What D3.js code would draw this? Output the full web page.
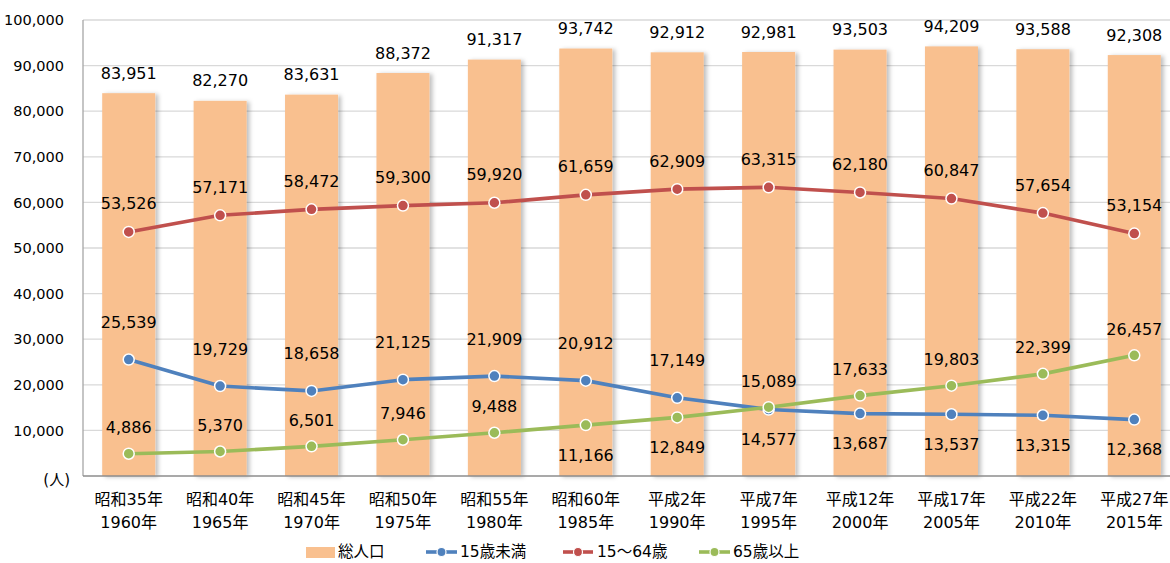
<!DOCTYPE html>
<html><head><meta charset="utf-8">
<script src="https://cdn.jsdelivr.net/npm/d3@7"></script>
<style>
html,body{margin:0;padding:0;background:#fff;}
svg{display:block;}
text{font-family:"DejaVu Sans","Noto Sans CJK JP",sans-serif;fill:#000;}
</style></head>
<body>
<svg id="chart" width="1170" height="563"></svg>
<script>
const catEra = ["昭和35年","昭和40年","昭和45年","昭和50年","昭和55年","昭和60年","平成2年","平成7年","平成12年","平成17年","平成22年","平成27年"];
const catYear = ["1960年","1965年","1970年","1975年","1980年","1985年","1990年","1995年","2000年","2005年","2010年","2015年"];
const total = [83951,82270,83631,88372,91317,93742,92912,92981,93503,94209,93588,92308];
const under15 = [25539,19729,18658,21125,21909,20912,17149,14577,13687,13537,13315,12368];
const age15to64 = [53526,57171,58472,59300,59920,61659,62909,63315,62180,60847,57654,53154];
const over65 = [4886,5370,6501,7946,9488,11166,12849,15089,17633,19803,22399,26457];
const under15LabelPos = ["above","above","above","above","above","above","above","below","below","below","below","below"];
const over65LabelPos = ["above","above","above","above","above","below","below","above","above","above","above","above"];
const yTicks = [10000,20000,30000,40000,50000,60000,70000,80000,90000,100000];
const legendNames = ["総人口","15歳未満","15～64歳","65歳以上"];

(function(){
const svg = d3.select("#chart");
const pLeft = 83, pRight = 1180, pTop = 20, pBottom = 476;

const x = d3.scaleBand().domain(d3.range(catEra.length)).range([pLeft, pRight]).paddingInner(0.42).paddingOuter(0.21);
const y = d3.scaleLinear().domain([0, 100000]).range([pBottom, pTop]);
const cx = i => x(i) + x.bandwidth() / 2;

const defs = svg.append("defs");
const f = defs.append("filter").attr("id","shadow").attr("x","-20%").attr("y","-5%").attr("width","150%").attr("height","110%");
f.append("feDropShadow").attr("dx",3).attr("dy",1).attr("stdDeviation",2).attr("flood-color","#000").attr("flood-opacity",0.25);

// gridlines
svg.append("g").selectAll("line").data(yTicks).join("line")
  .attr("x1", pLeft).attr("x2", 1170)
  .attr("y1", d => y(d)).attr("y2", d => y(d))
  .attr("stroke", "#d9d9d9").attr("stroke-width", 1.3);

// y axis
const yAxis = d3.axisLeft(y).tickValues(yTicks).tickSize(0).tickPadding(19).tickFormat(d3.format(","));
const gy = svg.append("g").attr("transform", `translate(${pLeft},0)`).call(yAxis);
gy.select(".domain").remove();
gy.selectAll("text").style("font-size","14.5px").attr("fill","#000").style("font-family",'"DejaVu Sans","Noto Sans CJK JP",sans-serif');
svg.append("text").attr("x", 70).attr("y", 480).attr("text-anchor","end").attr("dominant-baseline","middle")
  .style("font-size","15px").text("(人)");

// bars
svg.append("g").selectAll("rect").data(total).join("rect")
  .attr("x", (d,i) => x(i)).attr("width", x.bandwidth())
  .attr("y", d => y(d)).attr("height", d => pBottom - y(d))
  .attr("fill", "#F9C08F").attr("filter","url(#shadow)");

// axes lines
svg.append("line").attr("x1", pLeft).attr("x2", pLeft).attr("y1", pTop).attr("y2", pBottom).attr("stroke","#a6a6a6").attr("stroke-width",1.3);
svg.append("line").attr("x1", pLeft).attr("x2", 1170).attr("y1", pBottom).attr("y2", pBottom).attr("stroke","#8c8c8c").attr("stroke-width",1.5);

// x labels
const gx = svg.append("g");
gx.selectAll("text.era").data(catEra).join("text").attr("class","era")
  .attr("x", (d,i) => cx(i)).attr("y", 500).attr("text-anchor","middle").attr("dominant-baseline","middle")
  .style("font-size","16px").text(d => d);
gx.selectAll("text.yr").data(catYear).join("text").attr("class","yr")
  .attr("x", (d,i) => cx(i)).attr("y", 523).attr("text-anchor","middle").attr("dominant-baseline","middle")
  .style("font-size","16px").text(d => d);

// total labels
const fmt = d3.format(",");
svg.append("g").selectAll("text").data(total).join("text")
  .attr("x", (d,i) => cx(i)).attr("y", d => y(d) - 19)
  .attr("text-anchor","middle").attr("dominant-baseline","middle")
  .style("font-size","16px").text(d => fmt(d));

const series = [
  {vals: under15, color: "#4F81BD", above: -36, below: 31, pos: under15LabelPos},
  {vals: age15to64, color: "#C0504D", above: -27, below: 31, pos: null},
  {vals: over65, color: "#9BBB59", above: -25, below: 31, pos: over65LabelPos}
];
const line = d3.line().x((d,i) => cx(i)).y(d => y(d));
series.forEach(s => {
  const g = svg.append("g");
  g.append("path").datum(s.vals).attr("d", line).attr("fill","none").attr("stroke", s.color).attr("stroke-width", 3.6).attr("stroke-linejoin","round");
  g.selectAll("circle").data(s.vals).join("circle")
    .attr("cx", (d,i) => cx(i)).attr("cy", d => y(d)).attr("r", 5.5)
    .attr("fill", s.color).attr("stroke","#fff").attr("stroke-width",1.5);
  g.selectAll("text").data(s.vals).join("text")
    .attr("x", (d,i) => cx(i))
    .attr("y", (d,i) => y(d) + ((s.pos && s.pos[i] === "below") ? s.below : s.above))
    .attr("text-anchor","middle").attr("dominant-baseline","middle")
    .style("font-size","16px").text(d => fmt(d));
});

// legend
const lg = svg.append("g");
const ly = 552;
lg.append("rect").attr("x",306).attr("y",ly-5).attr("width",29).attr("height",11).attr("fill","#F9C08F");
lg.append("text").attr("x",338).attr("y",ly).attr("dominant-baseline","middle").style("font-size","15.5px").text(legendNames[0]);
const legItems = [{x1:426,x2:457,t:460,c:"#4F81BD",n:legendNames[1]},{x1:563,x2:593,t:597,c:"#C0504D",n:legendNames[2]},{x1:699,x2:730,t:733,c:"#9BBB59",n:legendNames[3]}];
legItems.forEach(o => {
  lg.append("line").attr("x1",o.x1).attr("x2",o.x2).attr("y1",ly).attr("y2",ly).attr("stroke",o.c).attr("stroke-width",3.6);
  lg.append("circle").attr("cx",(o.x1+o.x2)/2).attr("cy",ly).attr("r",4.5).attr("fill",o.c).attr("stroke","#fff").attr("stroke-width",1.2);
  lg.append("text").attr("x",o.t).attr("y",ly).attr("dominant-baseline","middle").style("font-size","15.5px").text(o.n);
});
})();
</script>
</body></html>
